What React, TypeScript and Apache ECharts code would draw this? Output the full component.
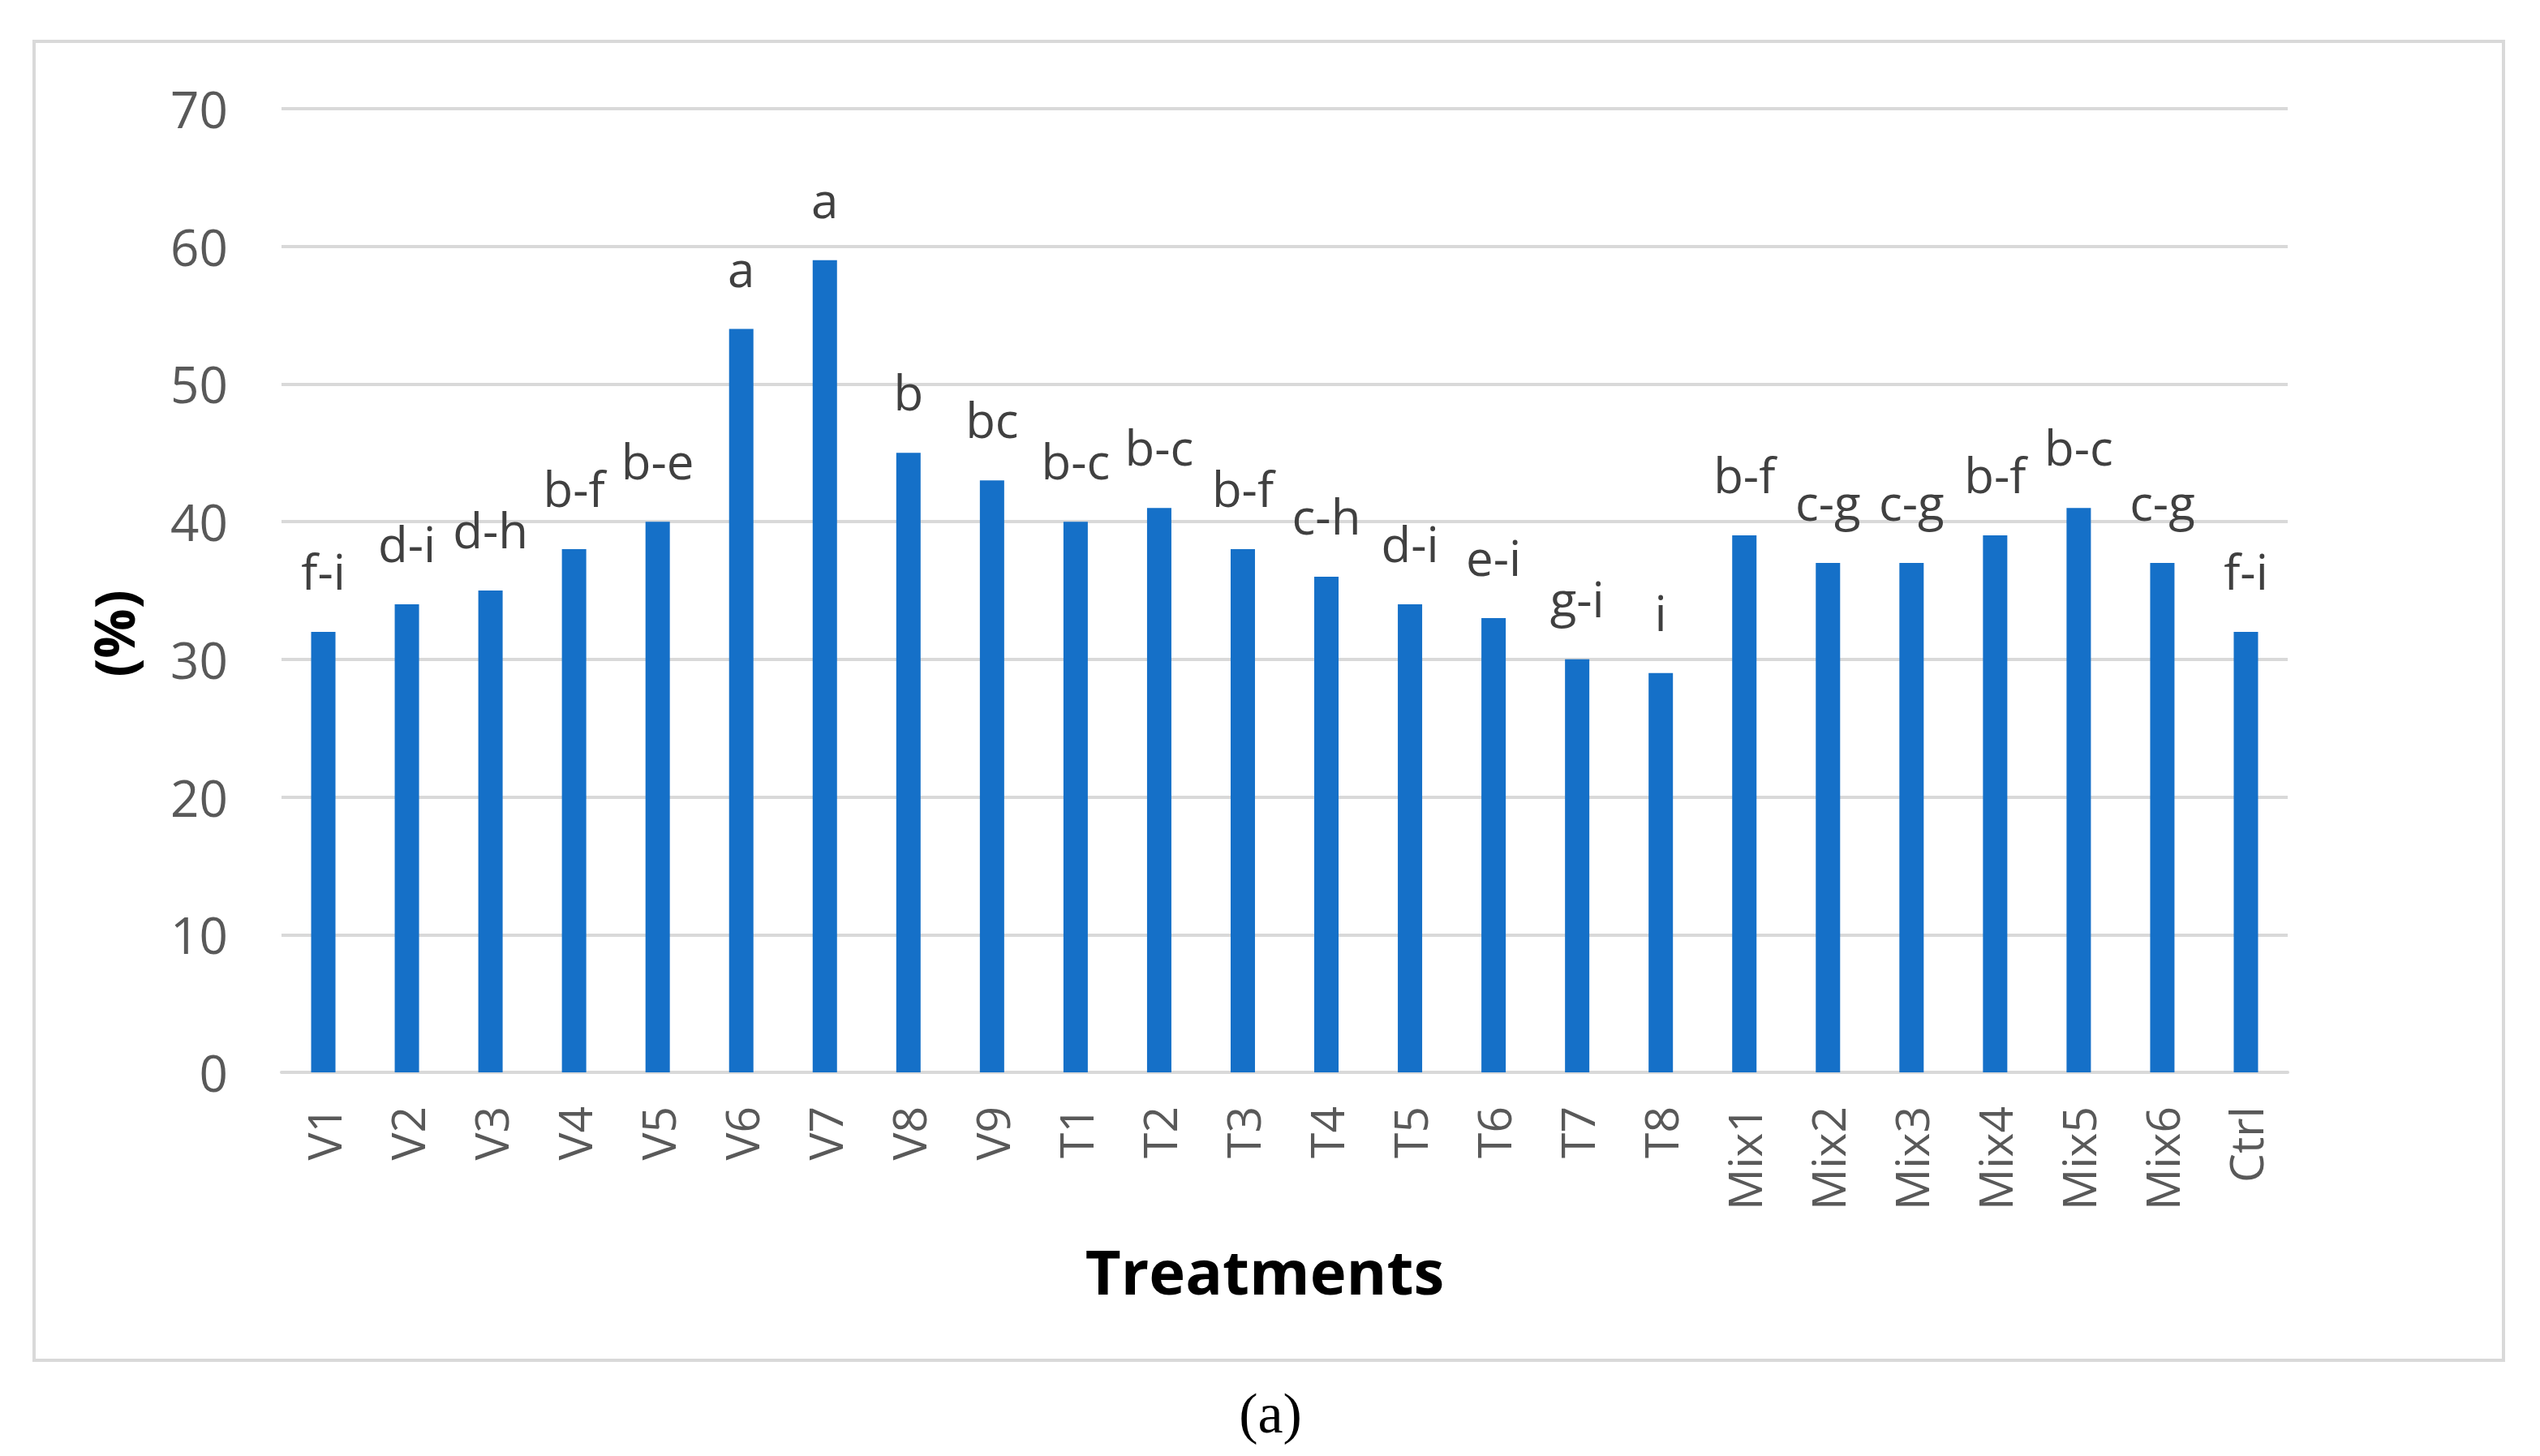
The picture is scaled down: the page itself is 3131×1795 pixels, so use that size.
import React, { useEffect, useRef } from "react";
import * as echarts from "echarts";

const categories = [
  "V1", "V2", "V3", "V4", "V5", "V6", "V7", "V8", "V9",
  "T1", "T2", "T3", "T4", "T5", "T6", "T7", "T8",
  "Mix1", "Mix2", "Mix3", "Mix4", "Mix5", "Mix6", "Ctrl",
];
const values = [
  32, 34, 35, 38, 40, 54, 59, 45, 43,
  40, 41, 38, 36, 34, 33, 30, 29,
  39, 37, 37, 39, 41, 37, 32,
];
const letters = [
  "f-i", "d-i", "d-h", "b-f", "b-e", "a", "a", "b", "bc",
  "b-c", "b-c", "b-f", "c-h", "d-i", "e-i", "g-i", "i",
  "b-f", "c-g", "c-g", "b-f", "b-c", "c-g", "f-i",
];
const yTicks = { min: 0, max: 70, interval: 10 };

const FONT = "'Open Sans', 'Noto Sans', sans-serif";

export default function App() {
  const ref = useRef<HTMLDivElement>(null);
  useEffect(() => {
    if (!ref.current) return;
    const chart = echarts.init(ref.current, undefined, { renderer: "svg" });
    chart.setOption({
      animation: false,
      backgroundColor: "#ffffff",
      grid: { left: 347, right: 311, top: 134, bottom: 473, containLabel: false },
      xAxis: {
        type: "category",
        data: categories,
        axisLine: { show: true, lineStyle: { color: "#d9d9d9", width: 4 } },
        axisTick: { show: false },
        axisLabel: {
          rotate: 90,
          margin: 42,
          color: "#595959",
          fontFamily: FONT,
          fontSize: 57,
          interval: 0,
        },
      },
      yAxis: {
        type: "value",
        min: yTicks.min,
        max: yTicks.max,
        interval: yTicks.interval,
        axisLine: { show: false },
        axisTick: { show: false },
        axisLabel: {
          margin: 66,
          color: "#595959",
          fontFamily: FONT,
          fontSize: 62,
        },
        splitLine: { lineStyle: { color: "#d9d9d9", width: 4 } },
      },
      series: [
        {
          type: "bar",
          data: values,
          barWidth: 30,
          itemStyle: { color: "#1570c8" },
          label: {
            show: true,
            position: "top",
            distance: 45,
            color: "#404040",
            fontFamily: FONT,
            fontSize: 60,
            formatter: (p: any) => letters[p.dataIndex],
          },
        },
      ],
      graphic: [
        {
          type: "rect",
          shape: { x: 42, y: 51, width: 3044, height: 1626 },
          style: { fill: "none", stroke: "#d9d9d9", lineWidth: 4 },
          silent: true,
        },
        {
          type: "text",
          x: 139,
          y: 781,
          rotation: Math.PI / 2,
          style: {
            text: "(%)",
            fontFamily: FONT,
            fontWeight: "bold",
            fontSize: 68,
            fill: "#000000",
            textAlign: "center",
            textVerticalAlign: "middle",
          },
        },
        {
          type: "text",
          x: 1559,
          y: 1566,
          style: {
            text: "Treatments",
            fontFamily: FONT,
            fontWeight: "bold",
            fontSize: 76,
            fill: "#000000",
            textAlign: "center",
            textVerticalAlign: "middle",
          },
        },
        {
          type: "text",
          x: 1566,
          y: 1742,
          style: {
            text: "(a)",
            fontFamily: "'Liberation Serif', 'DejaVu Serif', serif",
            fontSize: 70,
            fill: "#000000",
            textAlign: "center",
            textVerticalAlign: "middle",
          },
        },
      ],
    });
    return () => chart.dispose();
  }, []);
  return (
    <div
      ref={ref}
      style={{ position: "fixed", left: 0, top: 0, width: 3131, height: 1795, background: "#fff" }}
    />
  );
}
